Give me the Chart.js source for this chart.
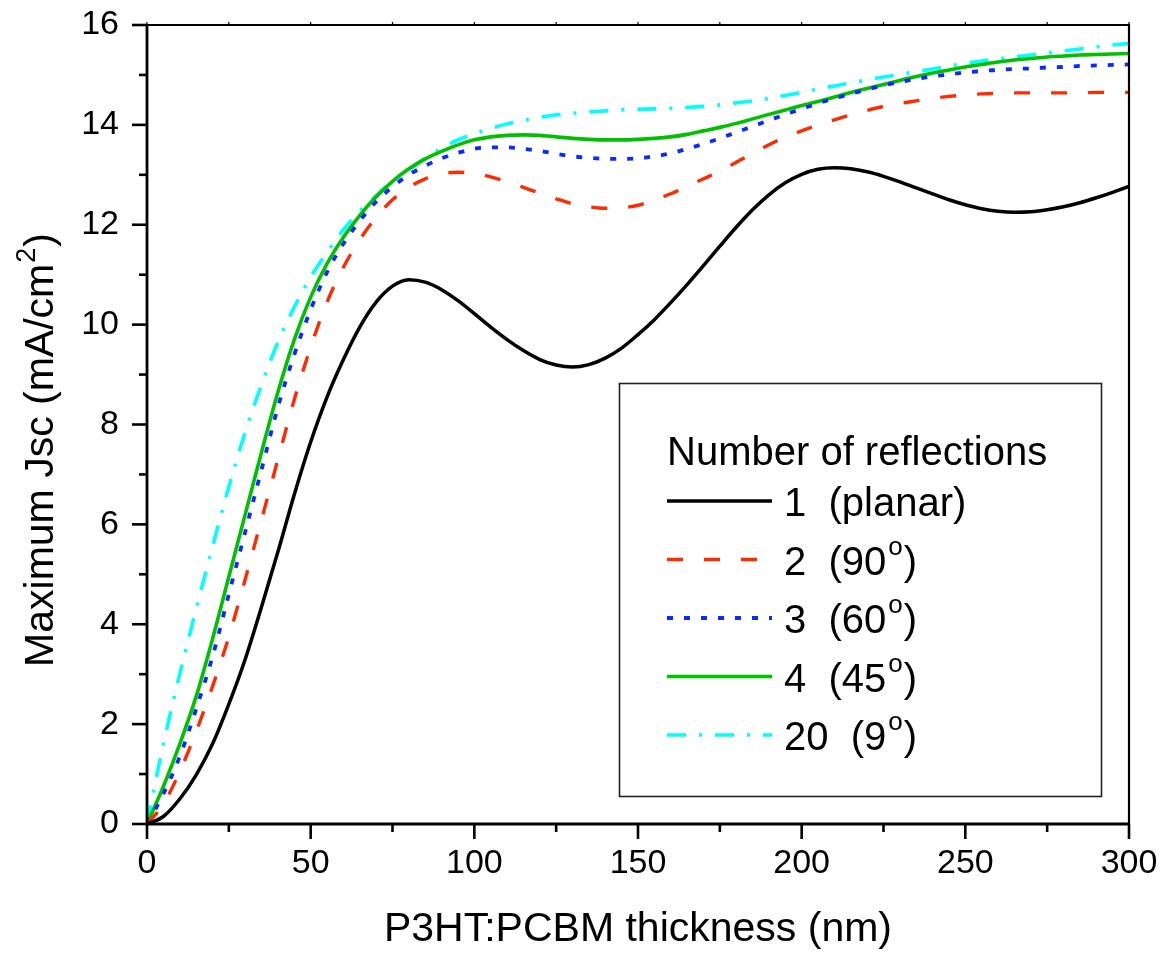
<!DOCTYPE html>
<html><head><meta charset="utf-8">
<script src="https://cdn.jsdelivr.net/npm/chart.js@4"></script>
<style>html,body{margin:0;padding:0;background:#fff;} canvas{display:block;}</style>
</head><body>
<canvas id="c" width="1167" height="955"></canvas>
<script>
// ---- data ----
const thickness = [0,5,10,15,20,25,30,35,40,45,50,55,60,65,70,75,80,85,90,95,100,105,110,115,120,125,130,135,140,145,150,155,160,165,170,175,180,185,190,195,200,205,210,215,220,225,230,235,240,245,250,255,260,265,270,275,280,285,290,295,300];
const jsc1 = [0,0.15,0.5,0.98,1.6,2.4,3.3,4.35,5.45,6.6,7.65,8.55,9.3,9.95,10.45,10.77,10.9,10.85,10.7,10.48,10.22,9.95,9.7,9.48,9.3,9.19,9.15,9.2,9.33,9.53,9.8,10.1,10.44,10.8,11.18,11.57,11.95,12.3,12.6,12.84,13.01,13.11,13.14,13.12,13.06,12.97,12.86,12.74,12.62,12.5,12.4,12.32,12.27,12.25,12.26,12.3,12.36,12.44,12.54,12.65,12.77];
const jsc2 = [0,0.4,1.05,1.85,2.75,3.75,4.9,6.1,7.3,8.5,9.55,10.45,11.15,11.7,12.15,12.5,12.75,12.92,13.02,13.05,13.03,12.96,12.86,12.75,12.63,12.52,12.42,12.36,12.33,12.34,12.39,12.5,12.62,12.77,12.92,13.07,13.25,13.43,13.6,13.76,13.88,14.0,14.1,14.2,14.29,14.37,14.43,14.48,14.53,14.57,14.6,14.62,14.63,14.64,14.64,14.64,14.64,14.64,14.65,14.65,14.65];
const jsc3 = [0,0.6,1.35,2.3,3.35,4.6,5.85,7.1,8.35,9.4,10.3,11.05,11.62,12.08,12.46,12.76,13.0,13.18,13.33,13.44,13.52,13.55,13.55,13.52,13.48,13.42,13.37,13.34,13.32,13.32,13.33,13.37,13.43,13.52,13.62,13.73,13.85,13.97,14.09,14.21,14.32,14.43,14.53,14.62,14.71,14.79,14.86,14.92,14.97,15.01,15.05,15.08,15.1,15.12,15.13,15.15,15.16,15.18,15.19,15.2,15.21];
const jsc4 = [0,0.75,1.6,2.55,3.7,4.95,6.2,7.45,8.65,9.7,10.55,11.22,11.75,12.19,12.56,12.87,13.12,13.32,13.47,13.6,13.7,13.76,13.79,13.8,13.79,13.76,13.73,13.71,13.7,13.7,13.71,13.73,13.76,13.81,13.88,13.95,14.03,14.12,14.21,14.3,14.39,14.47,14.56,14.65,14.73,14.81,14.89,14.97,15.04,15.1,15.16,15.21,15.26,15.3,15.33,15.36,15.38,15.4,15.41,15.42,15.43];
const jsc20 = [0,1.6,3.0,4.3,5.55,6.75,7.85,8.8,9.65,10.35,10.95,11.45,11.9,12.27,12.58,12.87,13.1,13.33,13.53,13.7,13.82,13.93,14.02,14.09,14.15,14.2,14.23,14.26,14.28,14.3,14.31,14.32,14.33,14.35,14.37,14.4,14.44,14.48,14.53,14.59,14.65,14.72,14.78,14.84,14.9,14.96,15.01,15.07,15.12,15.18,15.23,15.28,15.32,15.36,15.4,15.44,15.48,15.52,15.56,15.6,15.63];
const seriesNames = ['1','2','3','4','20'];
const seriesAngles = ['planar','90','60','45','9'];
const legendTitle = 'Number of reflections';
const xTitle = 'P3HT:PCBM thickness (nm)';
const yTitleMain = 'Maximum Jsc (mA/cm';
const yTitleSup = '2';
const yTitleEnd = ')';

const FONT = "'Liberation Sans', Arial, Helvetica, sans-serif";
const pts = arr => arr.map((v,i) => ({x: thickness[i], y: v}));
const styles = [
  {color:'#000000', dash:[], width:3.5},
  {color:'#ff2a00', dash:[16,21], width:3.4},
  {color:'#0a2aff', dash:[6,11], width:3.8},
  {color:'#00c000', dash:[], width:3.6},
  {color:'#00ffff', dash:[19,13,3,13], width:3.6}
];
const allSeries = [jsc1, jsc2, jsc3, jsc4, jsc20];

const frame = {
  id:'frame',
  afterDatasetsDraw(chart){
    const {ctx, chartArea:{left,right,top,bottom}, scales:{x,y}} = chart;
    ctx.save();
    ctx.strokeStyle = '#000';
    ctx.lineCap = 'butt';
    // box
    ctx.lineWidth = 2.2;
    ctx.beginPath(); ctx.moveTo(left,top); ctx.lineTo(right,top); ctx.lineTo(right,bottom); ctx.stroke();
    ctx.lineWidth = 2.8;
    ctx.beginPath(); ctx.moveTo(left,top-1); ctx.lineTo(left,bottom); ctx.lineTo(right+1,bottom); ctx.stroke();
    // ticks
    ctx.lineWidth = 2.6;
    x.ticks.forEach(t => {
      const px = x.getPixelForValue(t.value);
      const major = t.value % 50 === 0;
      ctx.beginPath(); ctx.moveTo(px,bottom); ctx.lineTo(px,bottom + (major?15:8)); ctx.stroke();
      ctx.save(); ctx.lineWidth=1.2; ctx.beginPath(); ctx.moveTo(px,top); ctx.lineTo(px,top-3); ctx.stroke(); ctx.restore();
    });
    y.ticks.forEach(t => {
      const py = y.getPixelForValue(t.value);
      const major = t.value % 2 === 0;
      ctx.beginPath(); ctx.moveTo(left,py); ctx.lineTo(left - (major?15:8),py); ctx.stroke();
    });
    // y axis title (with superscript)
    ctx.save();
    ctx.fillStyle = '#000';
    ctx.textBaseline = 'alphabetic'; ctx.textAlign = 'left';
    ctx.font = '41px ' + FONT;
    const w1 = ctx.measureText(yTitleMain).width;
    const w3 = ctx.measureText(yTitleEnd).width;
    ctx.font = '27px ' + FONT;
    const w2 = ctx.measureText(yTitleSup).width + 2;
    const total = w1 + w2 + w3;
    ctx.translate(53, 450);
    ctx.rotate(-Math.PI/2);
    let sx = -total/2;
    ctx.font = '41px ' + FONT;
    ctx.fillText(yTitleMain, sx, 0); sx += w1;
    ctx.font = '27px ' + FONT;
    ctx.fillText(yTitleSup, sx + 1, -18); sx += w2;
    ctx.font = '41px ' + FONT;
    ctx.fillText(yTitleEnd, sx, 0);
    ctx.restore();
    // legend
    const bx=619.5, by=383.5, bw=482, bh=413;
    ctx.fillStyle='#fff';
    ctx.fillRect(bx,by,bw,bh);
    ctx.lineWidth=1.6; ctx.strokeStyle='#222';
    ctx.strokeRect(bx,by,bw,bh);
    ctx.fillStyle='#000';
    ctx.textBaseline='alphabetic'; ctx.textAlign='left';
    ctx.font = '40px ' + FONT;
    ctx.fillText(legendTitle, 667, 465);
    chart.data.datasets.forEach((ds,i) => {
      const base = 516 + i*58.5;
      const ly = base - 15;
      ctx.save();
      ctx.strokeStyle = ds.borderColor; ctx.lineWidth = ds.borderWidth;
      ctx.setLineDash(ds.borderDash || []);
      ctx.beginPath(); ctx.moveTo(667, ly); ctx.lineTo(772, ly); ctx.stroke();
      ctx.restore();
      ctx.font = '40px ' + FONT;
      let tx = 784;
      const head = seriesNames[i] + '\u00A0\u00A0';
      ctx.fillText(head, tx, base); tx += ctx.measureText(head).width;
      const ang = seriesAngles[i];
      if (isNaN(Number(ang))) {
        ctx.fillText('(' + ang + ')', tx, base);
      } else {
        const s = '(' + ang;
        ctx.fillText(s, tx, base); tx += ctx.measureText(s).width + 2;
        ctx.font = '26px ' + FONT;
        ctx.fillText('o', tx, base - 20); tx += ctx.measureText('o').width + 1;
        ctx.font = '40px ' + FONT;
        ctx.fillText(')', tx, base);
      }
    });
    ctx.restore();
  }
};

new Chart(document.getElementById('c'), {
  type:'line',
  data:{
    datasets: allSeries.map((arr,i) => ({
      label: seriesNames[i],
      data: pts(arr),
      borderColor: styles[i].color,
      borderDash: styles[i].dash,
      borderWidth: styles[i].width,
      pointRadius: 0,
      fill:false,
      cubicInterpolationMode:'monotone'
    }))
  },
  options:{
    responsive:false,
    devicePixelRatio:1,
    animation:false,
    layout:{padding:{top:25,right:38,left:0,bottom:0}},
    plugins:{legend:{display:false}, tooltip:{enabled:false}},
    scales:{
      x:{
        type:'linear', min:0, max:300,
        grid:{display:false, drawTicks:false}, border:{display:false},
        ticks:{stepSize:25, autoSkip:false, maxRotation:0, padding:19, color:'#000',
          font:{family:FONT, size:34},
          callback:v => (v % 50 === 0 ? String(v) : '')},
        title:{display:true, text:xTitle, color:'#000', font:{family:FONT, size:41}, padding:{top:0,bottom:1}},
        afterFit:s => { s.height = 131; s.paddingLeft = 0; s.paddingRight = 0; }
      },
      y:{
        type:'linear', min:0, max:16,
        grid:{display:false, drawTicks:false}, border:{display:false},
        ticks:{stepSize:1, autoSkip:false, padding:28, color:'#000',
          font:{family:FONT, size:34},
          callback:v => (v % 2 === 0 ? String(v) : '')},
        title:{display:false},
        afterFit:s => { s.width = 147; s.paddingTop = 0; s.paddingBottom = 0; }
      }
    }
  },
  plugins:[frame]
});
</script>
</body></html>
